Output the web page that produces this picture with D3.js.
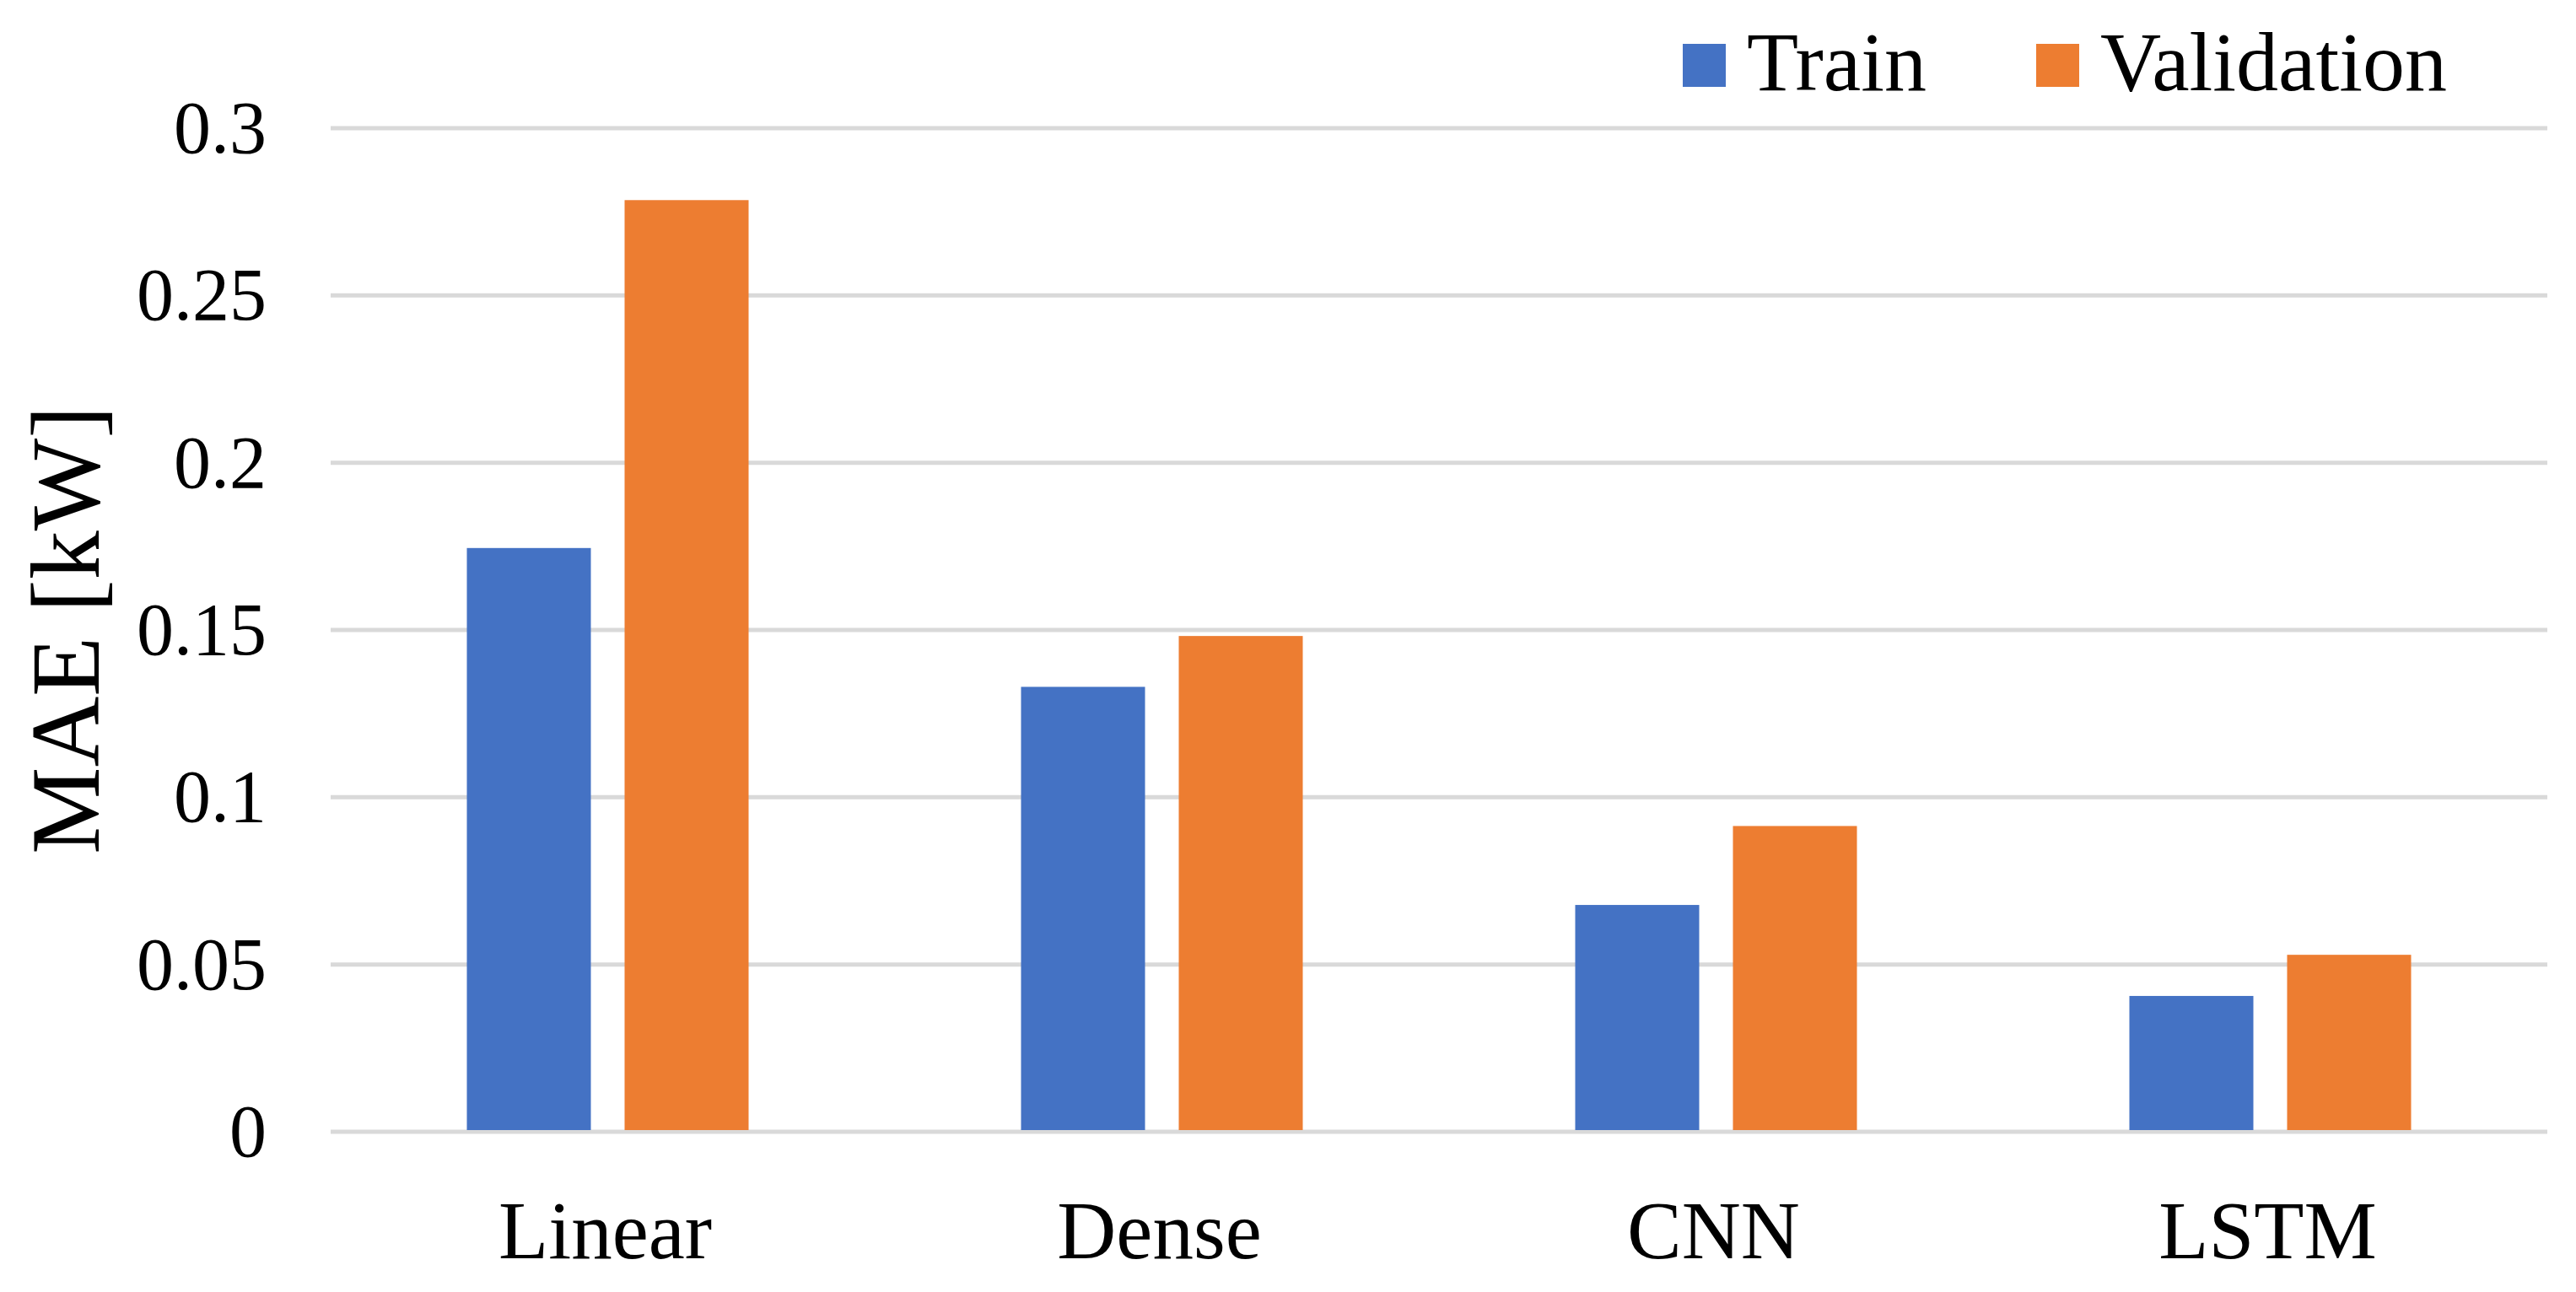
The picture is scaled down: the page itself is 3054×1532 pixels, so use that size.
<!DOCTYPE html>
<html>
<head>
<meta charset="utf-8">
<script src="https://cdn.jsdelivr.net/npm/d3@7"></script>
<style>
  html, body { margin: 0; padding: 0; background: #ffffff; }
  svg { display: block; }
  text { font-family: "Liberation Serif", "Times New Roman", serif; fill: #000; }
</style>
</head>
<body>
<svg id="chart" width="3054" height="1532"></svg>
<script>
const categories = ["Linear", "Dense", "CNN", "LSTM"];
const seriesNames = ["Train", "Validation"];
const trainValues = [0.1745, 0.133, 0.0678, 0.0406];
const validationValues = [0.2785, 0.1482, 0.0914, 0.0529];
const yTicks = [0, 0.05, 0.1, 0.15, 0.2, 0.25, 0.3];
const yTickLabels = ["0", "0.05", "0.1", "0.15", "0.2", "0.25", "0.3"];
const yAxisTitle = "MAE [kW]";
const colors = ["#4472C4", "#ED7D31"];

const svg = d3.select("#chart");
const W = 3054, H = 1532;
svg.append("rect").attr("width", W).attr("height", H).attr("fill", "#fff");

const plot = { left: 392, right: 3020, top: 152, bottom: 1342 };

const y = d3.scaleLinear().domain([0, 0.3]).range([plot.bottom, plot.top]);
const x0 = d3.scaleBand().domain(categories).range([plot.left, plot.right]).padding(0);
const x1 = d3.scaleBand().domain(seriesNames).range([0, x0.bandwidth()])
  .paddingInner(0.2139).paddingOuter(0.8636);

const seriesData = [trainValues, validationValues];

// gridlines
svg.append("g").selectAll("line").data(yTicks).join("line")
  .attr("x1", plot.left).attr("x2", plot.right)
  .attr("y1", d => y(d)).attr("y2", d => y(d))
  .attr("stroke", "#D9D9D9").attr("stroke-width", 5);

// y tick labels
svg.append("g").selectAll("text").data(yTicks).join("text")
  .attr("x", 316).attr("y", d => y(d) + 29)
  .attr("text-anchor", "end")
  .attr("font-size", 88)
  .text((d, i) => yTickLabels[i]);

// bars
const groups = svg.append("g").selectAll("g").data(categories).join("g")
  .attr("transform", c => `translate(${x0(c)},0)`);
groups.selectAll("rect")
  .data((c, ci) => seriesNames.map((s, si) => ({ s, v: seriesData[si][ci], si })))
  .join("rect")
  .attr("x", d => x1(d.s))
  .attr("width", x1.bandwidth())
  .attr("y", d => y(d.v))
  .attr("height", d => y(0) - y(d.v) - 2)
  .attr("fill", d => colors[d.si]);

// category labels
svg.append("g").selectAll("text").data(categories).join("text")
  .attr("x", c => x0(c) + x0.bandwidth() / 2 - 3)
  .attr("y", 1492)
  .attr("text-anchor", "middle")
  .attr("font-size", 97)
  .text(c => c);

// y axis title
svg.append("text")
  .attr("transform", `translate(117, ${(plot.top + plot.bottom) / 2}) rotate(-90)`)
  .attr("text-anchor", "middle")
  .attr("font-size", 116)
  .text(yAxisTitle);

// legend
const legendX = [1995, 2414];
const legend = svg.append("g").selectAll("g").data(seriesNames).join("g")
  .attr("transform", (d, i) => `translate(${legendX[i]},0)`);
legend.append("rect").attr("x", 0).attr("y", 52).attr("width", 51).attr("height", 51)
  .attr("fill", (d, i) => colors[i]);
legend.append("text").attr("x", 76).attr("y", 107)
  .attr("font-size", 100)
  .text(d => d);
</script>
</body>
</html>
